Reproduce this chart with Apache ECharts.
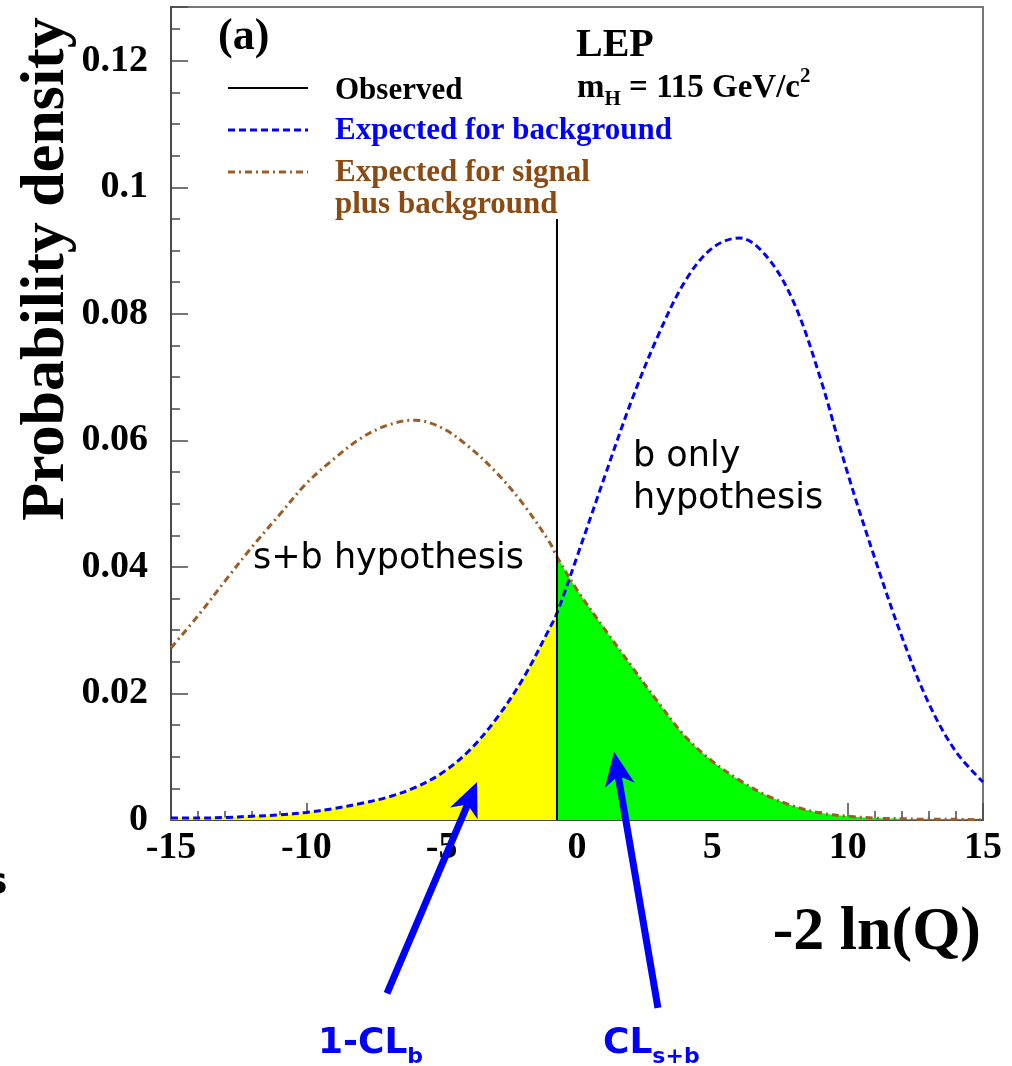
<!DOCTYPE html>
<html>
<head>
<meta charset="utf-8">
<script src="https://cdn.jsdelivr.net/npm/echarts@6/dist/echarts.min.js"></script>
<style>
  html, body { margin: 0; padding: 0; background: #ffffff; }
  #chart { width: 1012px; height: 1066px; }
</style>
</head>
<body>
<div id="chart"></div>
<script>
// Test statistic -2 ln(Q) sample points
const qValues = [-15, -14, -13, -12, -11, -10, -9, -8, -7, -6, -5, -4, -3, -2, -1, -0.74,
                 0, 1, 2, 3, 4, 5, 6, 7, 8, 9, 10, 11, 12, 13, 14, 15];

// Expected distribution for background only
const bOnlyDensity = [0.0003, 0.0003, 0.0004, 0.0006, 0.0008, 0.0012, 0.0018, 0.0026, 0.0036, 0.0051,
                      0.0074, 0.0109, 0.0159, 0.0223, 0.0304, 0.0327,
                      0.0416, 0.0540, 0.0661, 0.0766, 0.0852, 0.0904, 0.0920, 0.0891, 0.0819, 0.0697,
                      0.0548, 0.0414, 0.0290, 0.0184, 0.0108, 0.0060];

// Expected distribution for signal plus background
const sbDensity = [0.0272, 0.0323, 0.0378, 0.0432, 0.0482, 0.0532, 0.0570, 0.0603, 0.0624, 0.0632,
                   0.0620, 0.0590, 0.0550, 0.0500, 0.0438, 0.0416,
                   0.0364, 0.0303, 0.0244, 0.0186, 0.0132, 0.0093, 0.0063, 0.0039, 0.0022, 0.0011,
                   0.0006, 0.0003, 0.0002, 0.0001, 0.0001, 0.0000];

// Observed value of the test statistic and the height of its marker line
const observedQ = -0.74;
const observedTop = 0.095;

// Tick labels
const xTickLabels = ['-15', '-10', '-5', '0', '5', '10', '15'];
const yTickLabels = ['0', '0.02', '0.04', '0.06', '0.08', '0.1', '0.12'];

const SERIF = '"Liberation Serif", "Times New Roman", serif';
const SANS = '"DejaVu Sans", Verdana, sans-serif';
const BLUE = '#0000ff';
const BROWN_TEXT = '#8a4a12';
const BROWN_LINE = '#9c5e26';
const SMOOTH = 0.35;
const BLUE_DASH = [7, 4];
const BROWN_DASH = [7, 4, 2, 4];

const bPairs = qValues.map((q, i) => [q, bOnlyDensity[i]]);
const sbPairs = qValues.map((q, i) => [q, sbDensity[i]]);
const yellowPairs = bPairs.filter(p => p[0] <= observedQ);
const greenPairs = sbPairs.filter(p => p[0] >= observedQ);

const chart = echarts.init(document.getElementById('chart'), null, { renderer: 'canvas' });

const axisColor = '#4a4a4a';
const labelStyle = { fontFamily: SERIF, fontWeight: 'bold', fontSize: 38, color: '#000' };

chart.setOption({
  animation: false,
  backgroundColor: '#ffffff',
  grid: {
    left: 171, right: 29, top: 7, bottom: 246,
    show: true, borderColor: '#777', borderWidth: 2, backgroundColor: 'transparent'
  },
  xAxis: {
    type: 'value', min: -15, max: 15, interval: 5,
    axisLine: { show: true, onZero: false, lineStyle: { color: axisColor, width: 2 } },
    axisTick: { show: true, inside: true, length: 17, lineStyle: { color: axisColor, width: 1.5 } },
    minorTick: { show: true, splitNumber: 5, length: 9, lineStyle: { color: axisColor, width: 1.5 } },
    splitLine: { show: false },
    axisLabel: Object.assign({}, labelStyle, {
      margin: 9,
      formatter: v => {
        const i = Math.round((v + 15) / 5);
        return Math.abs(v - (i * 5 - 15)) < 1e-9 ? xTickLabels[i] : '';
      }
    })
  },
  yAxis: {
    type: 'value', min: 0, max: 0.1285, interval: 0.02,
    axisLine: { show: true, onZero: false, lineStyle: { color: axisColor, width: 2 } },
    axisTick: { show: true, inside: true, length: 17, lineStyle: { color: axisColor, width: 1.5 } },
    minorTick: { show: true, splitNumber: 4, length: 9, lineStyle: { color: axisColor, width: 1.5 } },
    splitLine: { show: false },
    axisLabel: Object.assign({}, labelStyle, {
      margin: 23,
      showMaxLabel: false,
      formatter: v => {
        const i = Math.round(v / 0.02);
        return (Math.abs(v - i * 0.02) < 1e-9 && i >= 0 && i < yTickLabels.length) ? yTickLabels[i] : '';
      }
    })
  },
  series: [
    {
      name: '1-CLb', type: 'line', data: yellowPairs, smooth: SMOOTH,
      symbol: 'none', lineStyle: { width: 0, opacity: 0 },
      areaStyle: { color: '#ffff00', opacity: 1 }, z: 1, silent: true
    },
    {
      name: 'CLs+b', type: 'line', data: greenPairs, smooth: SMOOTH,
      symbol: 'none', lineStyle: { width: 0, opacity: 0 },
      areaStyle: { color: '#00ff00', opacity: 1 }, z: 1, silent: true
    },
    {
      name: 'Expected for background', type: 'line', data: bPairs, smooth: SMOOTH,
      symbol: 'none', lineStyle: { color: BLUE, width: 3, type: BLUE_DASH }, z: 3
    },
    {
      name: 'Expected for signal plus background', type: 'line', data: sbPairs, smooth: SMOOTH,
      symbol: 'none', lineStyle: { color: BROWN_LINE, width: 3, type: BROWN_DASH }, z: 3
    },
    {
      name: 'Observed', type: 'line', data: [[observedQ, 0], [observedQ, observedTop]],
      symbol: 'none', lineStyle: { color: '#000', width: 2 }, z: 4
    }
  ]
});

// Arrows pointing at the two shaded tail areas, anchored in data coordinates
const arrows = [
  { tail: [-7.02, -0.0274], tip: [-3.69, 0.0060] },
  { tail: [2.99, -0.0297], tip: [1.37, 0.0108] }
];

function arrowElements(a) {
  const t = chart.convertToPixel({ gridIndex: 0 }, a.tail);
  const h = chart.convertToPixel({ gridIndex: 0 }, a.tip);
  const dx = h[0] - t[0], dy = h[1] - t[1];
  const len = Math.hypot(dx, dy);
  const ux = dx / len, uy = dy / len;
  const px = -uy, py = ux;
  const L = 34, W = 15;
  const bx = h[0] - ux * L, by = h[1] - uy * L;
  const nx = h[0] - ux * L * 0.72, ny = h[1] - uy * L * 0.72;
  return [
    { type: 'line', shape: { x1: t[0], y1: t[1], x2: nx, y2: ny },
      style: { stroke: BLUE, lineWidth: 7 }, z: 50 },
    { type: 'polygon', shape: { points: [[h[0], h[1]], [bx + px * W, by + py * W], [nx, ny], [bx - px * W, by - py * W]] },
      style: { fill: BLUE }, z: 50 }
  ];
}

const legendX0 = 228, legendX1 = 308;
const legendFont = 'bold 31px ' + SERIF;

const graphics = [
  // axis titles
  { type: 'text', x: 47, y: 269, rotation: Math.PI / 2,
    style: { text: 'Probability density', font: 'bold 62px ' + SERIF, fill: '#000', align: 'center', verticalAlign: 'middle' } },
  { type: 'text', x: 981, y: 933,
    style: { text: '-2 ln(Q)', font: 'bold 62px ' + SERIF, fill: '#000', align: 'right', verticalAlign: 'middle' } },

  // panel tag and experiment label
  { type: 'text', x: 218, y: 38,
    style: { text: '(a)', font: 'bold 44px ' + SERIF, fill: '#000', align: 'left', verticalAlign: 'middle' } },
  { type: 'text', x: 576, y: 46,
    style: { text: 'LEP', font: 'bold 40px ' + SERIF, fill: '#000', align: 'left', verticalAlign: 'middle' } },
  { type: 'text', x: 577, y: 88,
    style: {
      text: '{m|m}{s|H}{m| = 115 GeV/c}{p|2}', align: 'left', verticalAlign: 'middle', fill: '#000',
      rich: {
        m: { fontFamily: SERIF, fontWeight: 'bold', fontSize: 33, lineHeight: 44, fill: '#000' },
        s: { fontFamily: SERIF, fontWeight: 'bold', fontSize: 21, lineHeight: 21, verticalAlign: 'bottom', fill: '#000' },
        p: { fontFamily: SERIF, fontWeight: 'bold', fontSize: 21, lineHeight: 21, verticalAlign: 'top', fill: '#000' }
      }
    } },

  // legend
  { type: 'line', shape: { x1: legendX0, y1: 88, x2: legendX1, y2: 88 }, style: { stroke: '#000', lineWidth: 2 } },
  { type: 'line', shape: { x1: legendX0, y1: 130, x2: legendX1, y2: 130 }, style: { stroke: BLUE, lineWidth: 3, lineDash: BLUE_DASH } },
  { type: 'line', shape: { x1: legendX0, y1: 172, x2: legendX1, y2: 172 }, style: { stroke: BROWN_LINE, lineWidth: 3, lineDash: BROWN_DASH } },
  { type: 'text', x: 335, y: 91, style: { text: 'Observed', font: legendFont, fill: '#000', align: 'left', verticalAlign: 'middle' } },
  { type: 'text', x: 335, y: 131, style: { text: 'Expected for background', font: legendFont, fill: BLUE, align: 'left', verticalAlign: 'middle' } },
  { type: 'text', x: 335, y: 173, style: { text: 'Expected for signal', font: legendFont, fill: BROWN_TEXT, align: 'left', verticalAlign: 'middle' } },
  { type: 'text', x: 335, y: 205, style: { text: 'plus background', font: legendFont, fill: BROWN_TEXT, align: 'left', verticalAlign: 'middle' } },

  // hypothesis annotations
  { type: 'text', x: 253, y: 559, z: 20,
    style: { text: 's+b hypothesis', font: '35px ' + SANS, fill: '#000', align: 'left', verticalAlign: 'middle' } },
  { type: 'text', x: 633, y: 457, z: 20,
    style: { text: 'b only', font: '35px ' + SANS, fill: '#000', align: 'left', verticalAlign: 'middle' } },
  { type: 'text', x: 633, y: 499, z: 20,
    style: { text: 'hypothesis', font: '35px ' + SANS, fill: '#000', align: 'left', verticalAlign: 'middle' } },

  // confidence level labels
  { type: 'text', x: 318, y: 1044,
    style: {
      text: '{m|1-CL}{s|b}', align: 'left', verticalAlign: 'middle',
      rich: {
        m: { fontFamily: SANS, fontWeight: 'bold', fontSize: 36, lineHeight: 48, fill: BLUE },
        s: { fontFamily: SANS, fontWeight: 'bold', fontSize: 22, lineHeight: 22, verticalAlign: 'bottom', fill: BLUE }
      }
    } },
  { type: 'text', x: 603, y: 1044,
    style: {
      text: '{m|CL}{s|s+b}', align: 'left', verticalAlign: 'middle',
      rich: {
        m: { fontFamily: SANS, fontWeight: 'bold', fontSize: 36, lineHeight: 48, fill: BLUE },
        s: { fontFamily: SANS, fontWeight: 'bold', fontSize: 22, lineHeight: 22, verticalAlign: 'bottom', fill: BLUE }
      }
    } },

  // edge of a neighbouring label
  { type: 'text', x: -14, y: 884,
    style: { text: 's', font: 'bold 36px ' + SANS, fill: '#000', align: 'left', verticalAlign: 'middle' } }
];

arrows.forEach(a => arrowElements(a).forEach(el => graphics.push(el)));

chart.setOption({ graphic: graphics });
</script>
</body>
</html>
